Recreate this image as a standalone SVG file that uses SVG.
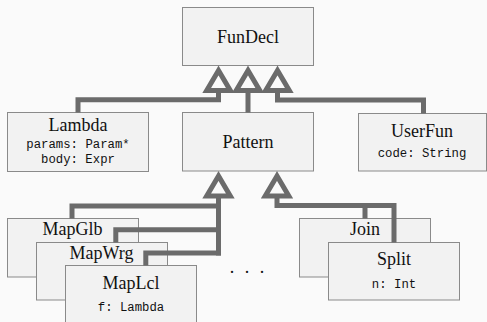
<svg xmlns="http://www.w3.org/2000/svg" width="487" height="322" viewBox="0 0 487 322">
<style>
  .box { fill: #f2f2f2; stroke: #8a8a8a; stroke-width: 1; }
  .name { font-family: "Liberation Serif", "Times New Roman", serif; font-size: 18px; fill: #111; text-anchor: middle; }
  .attr { font-family: "Liberation Mono", "Courier New", monospace; font-size: 12.3px; fill: #111; text-anchor: middle; }
  .conn { fill: none; stroke: #6b6b6b; stroke-width: 5; stroke-linejoin: miter; stroke-linecap: butt; }
  .tri { fill: #fafafa; stroke: #6b6b6b; stroke-width: 5; stroke-linejoin: miter; stroke-miterlimit: 10; }
</style>
<defs>
  <polygon id="inh" points="0,0 -11.8,20 11.8,20"/>
</defs>
<rect x="0" y="0" width="487" height="322" fill="#fafafa"/>

<g id="FunDecl">
  <rect class="box" x="182.5" y="7.5" width="131" height="58"/>
  <text class="name" x="248" y="43">FunDecl</text>
</g>
<g id="Lambda">
  <rect class="box" x="7.5" y="112.5" width="141" height="59"/>
  <text class="name" x="78" y="131">Lambda</text>
  <text class="attr" x="78" y="148">params: Param*</text>
  <text class="attr" x="78" y="163">body: Expr</text>
</g>
<g id="Pattern">
  <rect class="box" x="182.5" y="112.5" width="131" height="58.5"/>
  <text class="name" x="248" y="148">Pattern</text>
</g>
<g id="UserFun">
  <rect class="box" x="358.5" y="113.5" width="128" height="57.5"/>
  <text class="name" x="422" y="137">UserFun</text>
  <text class="attr" x="422" y="157">code: String</text>
</g>
<g id="MapGlb">
  <rect class="box" x="7.5" y="218.5" width="131" height="58.5"/>
  <text class="name" x="72.5" y="235">MapGlb</text>
</g>
<g id="MapWrg">
  <rect class="box" x="36.5" y="242.5" width="131" height="57.5"/>
  <text class="name" x="101.5" y="259">MapWrg</text>
</g>
<g id="MapLcl">
  <rect class="box" x="65.5" y="265.5" width="131" height="60"/>
  <text class="name" x="131" y="289">MapLcl</text>
  <text class="attr" x="131" y="311">f: Lambda</text>
</g>
<g id="Join">
  <rect class="box" x="299.5" y="218.5" width="131" height="58.5"/>
  <text class="name" x="365" y="235">Join</text>
</g>
<g id="Split">
  <rect class="box" x="328.5" y="242.5" width="131" height="57.5"/>
  <text class="name" x="394" y="265">Split</text>
  <text class="attr" x="394" y="288">n: Int</text>
</g>
<g id="ellipsis">
  <text class="name" x="232 247 262" y="273" text-anchor="middle">...</text>
</g>

<g id="connectors">
  <path class="conn" d="M78 112.5 V99.8 H218.5 V92"/>
  <path class="conn" d="M248 112.5 V92"/>
  <path class="conn" d="M423.5 113.5 V100 H277.5 V92"/>
  <path class="conn" d="M72 218.5 V206 H218.5 V197"/>
  <path class="conn" d="M115.8 242.5 V229.8 H218.5"/>
  <path class="conn" d="M145.8 265.5 V253 H221"/>
  <path class="conn" d="M218.5 197 V255.5"/>
  <path class="conn" d="M277 197 V205.5 H394 V242.5"/>
  <path class="conn" d="M365 205.5 V218.5"/>
  <use class="tri" href="#inh" x="218.5" y="70.5"/>
  <use class="tri" href="#inh" x="248" y="70.5"/>
  <use class="tri" href="#inh" x="277.5" y="70.5"/>
  <use class="tri" href="#inh" x="218.5" y="176"/>
  <use class="tri" href="#inh" x="277" y="176"/>
</g>
</svg>
